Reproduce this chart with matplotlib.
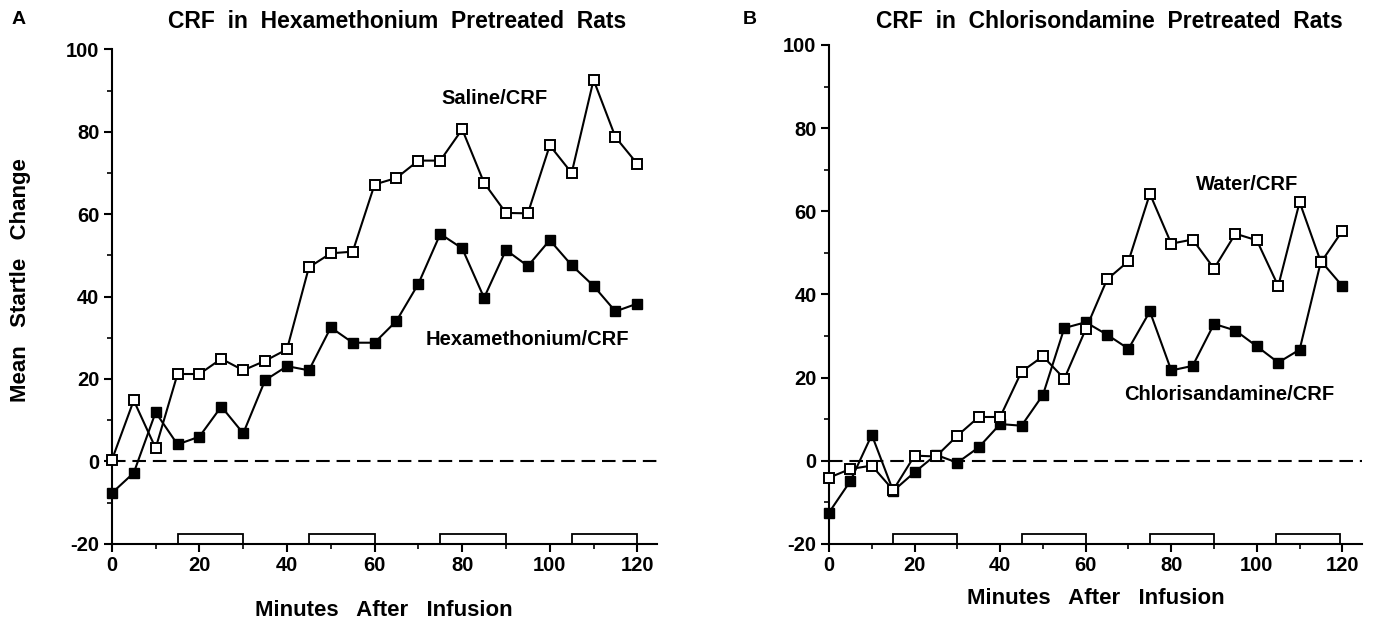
import matplotlib
matplotlib.use("Agg")
import matplotlib.pyplot as plt
from matplotlib.ticker import MultipleLocator

plt.rcParams['font.family'] = ['Liberation Sans', 'DejaVu Sans']
plt.rcParams['font.weight'] = 'bold'
plt.rcParams['axes.unicode_minus'] = False

# time points (minutes after infusion)
minutes = list(range(0, 125, 5))

# Panel A: hexamethonium pretreatment
saline_crf = [0.3, 14.8, 3.2, 21.2, 21.2, 24.9, 22.1, 24.4, 27.2, 47.1, 50.5, 50.9,
              67.2, 68.8, 73.0, 73.0, 80.6, 67.6, 60.3, 60.2, 76.7, 70.0, 92.6, 78.7, 72.2]
hexa_crf = [-7.7, -2.8, 11.9, 4.1, 6.0, 13.3, 6.8, 19.7, 23.1, 22.1, 32.5, 28.8,
            28.8, 34.1, 43.1, 55.2, 51.7, 39.7, 51.3, 47.4, 53.7, 47.6, 42.6, 36.4, 38.3]

# Panel B: chlorisondamine pretreatment
water_crf = [-4.1, -2.0, -1.2, -7.1, 1.2, 1.0, 6.0, 10.5, 10.5, 21.4, 25.1, 19.7,
             31.6, 43.6, 48.0, 64.2, 52.2, 53.2, 46.2, 54.6, 53.0, 42.0, 62.2, 47.7, 55.3]
chlor_crf = [-12.5, -4.9, 6.2, -7.3, -2.8, 1.4, -0.5, 3.2, 8.8, 8.4, 15.8, 31.9,
             33.3, 30.3, 26.9, 35.9, 21.7, 22.8, 32.9, 31.3, 27.5, 23.6, 26.7, 48.0, 42.0]

# infusion periods drawn as open bars along the x axis
periods_a = [15, 45, 75, 105]
periods_b = [15, 45, 75, 104.5]
period_len = 15

xticks = [0, 20, 40, 60, 80, 100, 120]
yticks = [-20, 0, 20, 40, 60, 80, 100]


def draw_panel(ax, open_vals, filled_vals, periods, open_lbl, filled_lbl,
               open_pos, filled_pos):
    ax.axhline(0, color='black', lw=1.5, linestyle=(0, (6.5, 3.3)), zorder=1)
    ax.bar(periods, [2.4] * len(periods), width=period_len, bottom=-20,
           align='edge', facecolor='white', edgecolor='black', lw=1.3,
           zorder=2, clip_on=False)
    ax.plot(minutes, filled_vals, '-s', color='black', lw=1.5, ms=6.5,
            mfc='black', mec='black', zorder=3, clip_on=False)
    ax.plot(minutes, open_vals, '-s', color='black', lw=1.5, ms=6.5,
            mfc='white', mec='black', mew=1.4, zorder=4, clip_on=False)
    ax.text(open_pos[0], open_pos[1], open_lbl, ha='center', va='center',
            fontsize=14.5, fontweight='bold')
    ax.text(filled_pos[0], filled_pos[1], filled_lbl, ha='center', va='center',
            fontsize=14.5, fontweight='bold')

    ax.set_xlim(0, 124.5)
    ax.set_ylim(-20, 100)
    ax.spines['top'].set_visible(False)
    ax.spines['right'].set_visible(False)
    ax.spines['left'].set_linewidth(1.5)
    ax.spines['bottom'].set_linewidth(1.5)
    ax.set_xticks(xticks)
    ax.set_yticks(yticks)
    ax.xaxis.set_minor_locator(MultipleLocator(10))
    ax.yaxis.set_minor_locator(MultipleLocator(10))
    ax.tick_params(which='major', direction='out', length=6, width=1.5,
                   labelsize=14.5, pad=3)
    ax.tick_params(which='minor', direction='out', length=3.5, width=1.2)
    for lab in ax.get_xticklabels() + ax.get_yticklabels():
        lab.set_fontweight('bold')


fig = plt.figure(figsize=(13.98, 6.25), dpi=100)
ax_a = fig.add_axes([0.080, 0.130, 0.390, 0.791])
ax_b = fig.add_axes([0.593, 0.130, 0.381, 0.798])

draw_panel(ax_a, saline_crf, hexa_crf, periods_a, 'Saline/CRF',
           'Hexamethonium/CRF', (87.4, 88), (95, 29.6))
draw_panel(ax_b, water_crf, chlor_crf, periods_b, 'Water/CRF',
           'Chlorisandamine/CRF', (97.7, 66.5), (93.6, 15.8))

W, H = 1398, 625
fig.text(21 / W, 1 - 280 / H, 'Mean   Startle   Change', rotation=90,
         ha='center', va='center', fontsize=16, fontweight='bold')
fig.text(384 / W, 1 - 610 / H, 'Minutes   After   Infusion',
         ha='center', va='center', fontsize=16, fontweight='bold')
fig.text(1096 / W, 1 - 598 / H, 'Minutes   After   Infusion',
         ha='center', va='center', fontsize=16, fontweight='bold')

fig.text(397 / W, 1 - 21 / H, 'CRF  in  Hexamethonium  Pretreated  Rats',
         ha='center', va='center', fontsize=16.5, fontweight='bold')
fig.text(1109 / W, 1 - 21 / H, 'CRF  in  Chlorisondamine  Pretreated  Rats',
         ha='center', va='center', fontsize=16.5, fontweight='bold')
fig.text(19 / W, 1 - 20 / H, 'A', ha='center', va='center',
         fontsize=14, fontweight='bold')
fig.text(750 / W, 1 - 20 / H, 'B', ha='center', va='center',
         fontsize=14, fontweight='bold')

fig.savefig('out.png', dpi=100)
